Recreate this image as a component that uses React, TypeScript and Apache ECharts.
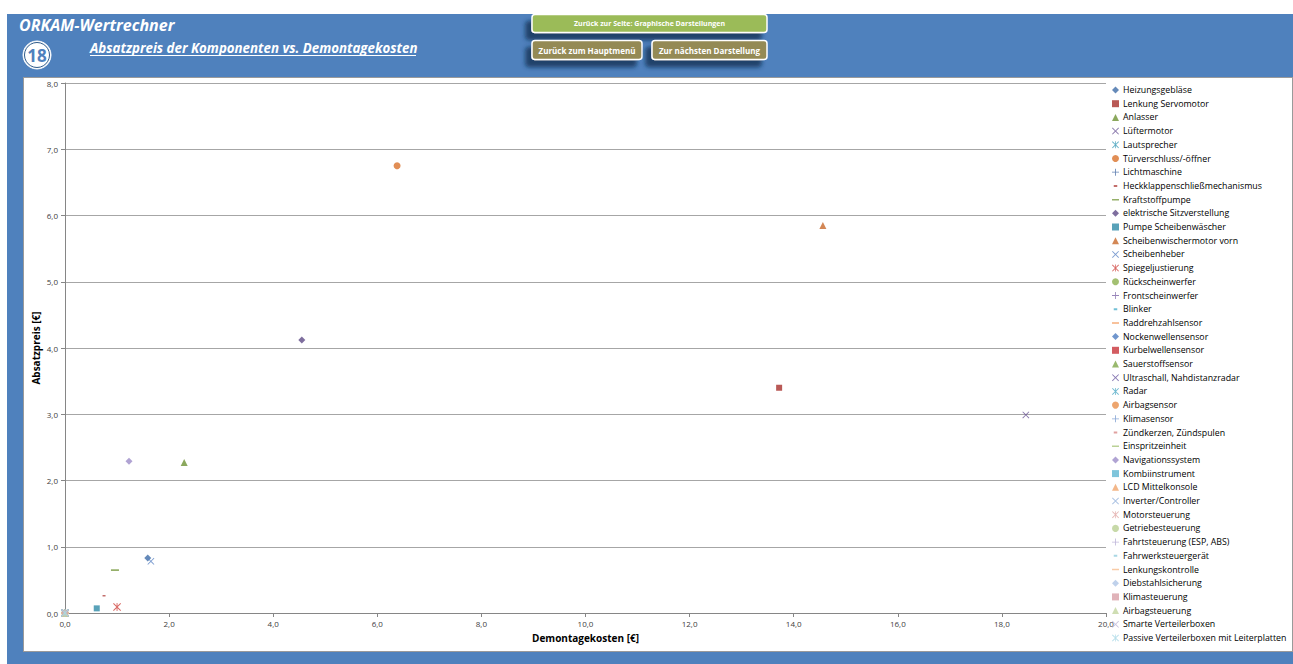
import React, { useEffect, useRef } from "react";
import * as echarts from "echarts";

const seriesNames = [
  "Heizungsgebläse", "Lenkung Servomotor", "Anlasser", "Lüftermotor", "Lautsprecher",
  "Türverschluss/-öffner", "Lichtmaschine", "Heckklappenschließmechanismus", "Kraftstoffpumpe",
  "elektrische Sitzverstellung", "Pumpe Scheibenwäscher", "Scheibenwischermotor vorn", "Scheibenheber",
  "Spiegeljustierung", "Rückscheinwerfer", "Frontscheinwerfer", "Blinker", "Raddrehzahlsensor",
  "Nockenwellensensor", "Kurbelwellensensor", "Sauerstoffsensor", "Ultraschall, Nahdistanzradar",
  "Radar", "Airbagsensor", "Klimasensor", "Zündkerzen, Zündspulen", "Einspritzeinheit",
  "Navigationssystem", "Kombiinstrument", "LCD Mittelkonsole", "Inverter/Controller",
  "Motorsteuerung", "Getriebesteuerung", "Fahrtsteuerung (ESP, ABS)", "Fahrwerksteuergerät",
  "Lenkungskontrolle", "Diebstahlsicherung", "Klimasteuerung", "Airbagsteuerung",
  "Smarte Verteilerboxen", "Passive Verteilerboxen mit Leiterplatten",
];

// Demontagekosten [€] (x)
const demontagekosten = [
  1.59, 13.72, 2.29, 18.46, 0, 6.38, 0, 0.75, 0.96, 4.55, 0.61, 14.56, 1.65, 1.0, 0,
  0, 0, 0, 0, 0, 0, 0, 0, 0, 0, 0, 0, 1.23, 0, 0, 0, 0, 0, 0, 0, 0, 0, 0, 0, 0, 0,
];
// Absatzpreis [€] (y)
const absatzpreis = [
  0.83, 3.4, 2.27, 2.99, 0, 6.75, 0, 0.26, 0.65, 4.12, 0.07, 5.85, 0.78, 0.09, 0,
  0, 0, 0, 0, 0, 0, 0, 0, 0, 0, 0, 0, 2.29, 0, 0, 0, 0, 0, 0, 0, 0, 0, 0, 0, 0, 0,
];

const seriesColors = [
  "#3F6DA8", "#A8302C", "#6E9235", "#6B5596", "#3A9BB8", "#D9722A",
  "#3C64A0", "#B44A46", "#7C9C45", "#5E4A86", "#2F8BA8", "#C8692A",
  "#5C85C4", "#D0433E", "#8CB04E", "#7E66A8", "#4FB0CC", "#F29A5A",
  "#4C7CC0", "#C8333A", "#7FA84A", "#6A58A0", "#4AA8C4", "#E88E4A",
  "#6E94CC", "#D88A88", "#A9C67C", "#9C8CC8", "#5FB7D2", "#F0A56C",
  "#97B4DC", "#E0A6A4", "#B9D092", "#B2A6D2", "#93CDDD", "#F6BE90",
  "#AFC5E6", "#D8A0A8", "#C3D6A0", "#BDB4D6", "#A9D8E6",
];

const xTicks = { min: 0, max: 20, interval: 2 };
const yTicks = { min: 0, max: 8, interval: 1 };

const X_PATH = "M0,0.9L0.9,0L5,4.1L9.1,0L10,0.9L5.9,5L10,9.1L9.1,10L5,5.9L0.9,10L0,9.1L4.1,5Z";
const markerShapes: { symbol: string; size: number }[] = [
  { symbol: "diamond", size: 7 },
  { symbol: "rect", size: 6 },
  { symbol: "triangle", size: 7 },
  { symbol: "path://" + X_PATH, size: 7 },
  { symbol: "path://" + X_PATH + " M4.45,0H5.55V10H4.45Z", size: 8 },
  { symbol: "circle", size: 7 },
  { symbol: "path://M4.4,0H5.6V4.4H10V5.6H5.6V10H4.4V5.6H0V4.4H4.4Z", size: 7 },
  { symbol: "path://M0,0H0.05V0.05H0Z M2.5,3.6H7.5V6.4H2.5Z M9.95,9.95H10V10H9.95Z", size: 6 },
  { symbol: "path://M0,0H0.05V0.05H0Z M0,4H10V6.2H0Z M9.95,9.95H10V10H9.95Z", size: 8 },
];

const fmt = (v: number) => v.toFixed(1).replace(".", ",");
const FONT = "'Open Sans', 'Noto Sans', sans-serif";

export default function App() {
  const ref = useRef<HTMLDivElement>(null);
  useEffect(() => {
    if (!ref.current) return;
    const chart = echarts.init(ref.current, null, { renderer: "svg" });
    const series = seriesNames.map((name, i) => {
      const m = markerShapes[i % markerShapes.length];
      return {
        name,
        type: "scatter",
        data: [[demontagekosten[i], absatzpreis[i]]],
        symbol: m.symbol,
        symbolSize: m.size,
        itemStyle: { color: seriesColors[i] },
      };
    });

    const shadow = { shadowBlur: 4, shadowOffsetX: -6, shadowOffsetY: 7, shadowColor: "rgba(25,45,80,0.75)" };
    const btn = (x: number, y: number, w: number, h: number, fill: string, text: string, fs: number) => [
      { type: "rect", shape: { x, y, width: w, height: h, r: 3 }, style: { fill, stroke: "#FFFFFF", lineWidth: 1.5, ...shadow }, z: 10 },
      {
        type: "text", x: x + w / 2, y: y + h / 2, z: 11,
        style: { text, fill: "#FFFFFF", fontSize: fs, fontWeight: "bold", fontFamily: FONT, textAlign: "center", textVerticalAlign: "middle" },
      },
    ];

    chart.setOption({
      animation: false,
      backgroundColor: "transparent",
      grid: { left: 65, right: 187, top: 83, bottom: 51 },
      xAxis: {
        type: "value",
        min: xTicks.min, max: xTicks.max, interval: xTicks.interval,
        name: "Demontagekosten [€]",
        nameLocation: "middle",
        nameGap: 20,
        nameTextStyle: { fontSize: 10, fontWeight: "bold", color: "#000", fontFamily: FONT },
        axisLine: { lineStyle: { color: "#868686" } },
        axisTick: { show: true, length: 4, lineStyle: { color: "#868686" } },
        axisLabel: { formatter: fmt, fontSize: 8, color: "#404040", fontFamily: FONT, margin: 6 },
        splitLine: { show: false },
      },
      yAxis: {
        type: "value",
        min: yTicks.min, max: yTicks.max, interval: yTicks.interval,
        name: "Absatzpreis [€]",
        nameLocation: "middle",
        nameRotate: 90,
        nameGap: 24,
        nameMoveOverlap: false,
        nameTextStyle: { fontSize: 10, fontWeight: "bold", color: "#000", fontFamily: FONT },
        axisLine: { show: true, lineStyle: { color: "#868686" } },
        axisTick: { show: true, length: 4, lineStyle: { color: "#868686" } },
        axisLabel: { formatter: fmt, fontSize: 8, color: "#404040", fontFamily: FONT, margin: 7 },
        splitLine: { show: true, lineStyle: { color: "#A6A6A6", width: 1 } },
      },
      legend: {
        orient: "vertical",
        left: 1112,
        top: 85.5,
        itemWidth: 7,
        itemHeight: 7,
        itemGap: 4.7,
        padding: 0,
        textStyle: { fontSize: 8.8, lineHeight: 9, color: "#000", fontFamily: FONT, padding: [0, 0, 0, -1] },
        data: seriesNames,
      },
      graphic: [
        {
          type: "text", x: 19, y: 25, z: 10,
          style: { text: "ORKAM-Wertrechner", fill: "#FFFFFF", fontSize: 16, fontWeight: "bold", fontStyle: "italic", fontFamily: FONT, textVerticalAlign: "middle" },
        },
        { type: "circle", shape: { cx: 37, cy: 55, r: 14 }, style: { fill: "#FFFFFF", stroke: "#FFFFFF", lineWidth: 1 }, z: 10 },
        { type: "circle", shape: { cx: 37, cy: 55, r: 12.5 }, style: { fill: "#FFFFFF", stroke: "#2E5A8A", lineWidth: 1 }, z: 10 },
        {
          type: "text", x: 37, y: 55.5, z: 11,
          style: { text: "18", fill: "#4F81BD", fontSize: 17, fontWeight: "bold", fontFamily: FONT, textAlign: "center", textVerticalAlign: "middle" },
        },
        {
          type: "text", x: 90, y: 48, z: 10,
          style: { text: "Absatzpreis der Komponenten vs. Demontagekosten", fill: "#FFFFFF", fontSize: 13.3, fontWeight: "bold", fontStyle: "italic", fontFamily: FONT, textVerticalAlign: "middle" },
        },
        { type: "line", shape: { x1: 90, y1: 55.5, x2: 416, y2: 55.5 }, style: { stroke: "#FFFFFF", lineWidth: 1 }, z: 10 },
        ...btn(532, 14.5, 235, 18, "#9BBB59", "Zurück zur Seite: Graphische Darstellungen", 7),
        ...btn(532, 40.5, 110, 19, "#948A54", "Zurück zum Hauptmenü", 8),
        ...btn(652, 40.5, 115, 19, "#948A54", "Zur nächsten Darstellung", 8),
      ],
      series,
    });
    return () => chart.dispose();
  }, []);

  return (
    <div style={{ position: "absolute", left: 0, top: 0, width: 1293, height: 664, background: "#FFFFFF", overflow: "hidden" }}>
      <div style={{ position: "absolute", left: 7, top: 14, width: 1286, height: 650, background: "#4F81BD" }} />
      <div style={{ position: "absolute", left: 23, top: 77, width: 1270, height: 575, background: "#FFFFFF", border: "1px solid #9A9A9A", boxSizing: "border-box" }} />
      <div ref={ref} style={{ position: "absolute", left: 0, top: 0, width: 1293, height: 664 }} />
    </div>
  );
}
